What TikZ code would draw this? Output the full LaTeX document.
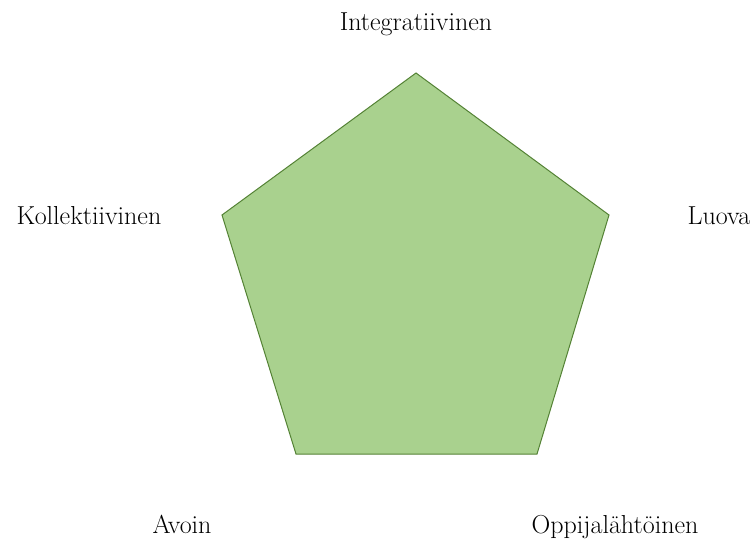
\documentclass[tikz,border=0pt]{standalone}
\definecolor{pentafill}{RGB}{169,209,142}
\definecolor{pentaline}{RGB}{84,130,53}
\begin{document}
\begin{tikzpicture}[x=1pt, y=-1pt]
		 \tikzstyle{pentagon} = [draw=pentaline, fill=pentafill, line width=1pt, line join=miter];
		 \tikzstyle{cornertext} = [font=\fontsize{26}{30}\selectfont, anchor=base, inner sep=0pt];

		 \useasboundingbox (0,0) rectangle (756,541);

		 \coordinate (v_top)   at (416,73);
		 \coordinate (v_right) at (609,215);
		 \coordinate (v_br)    at (537,454);
		 \coordinate (v_bl)    at (296,454);
		 \coordinate (v_left)  at (222,215);

		 \draw [pentagon] (v_top) -- (v_right) -- (v_br) -- (v_bl) -- (v_left) -- cycle;

		 \node [cornertext] (integ) at (416,30)  {Integratiivinen};
		 \node [cornertext] (luova) at (719,224) {Luova};
		 \node [cornertext] (oppij) at (615,533) {Oppijal\"aht\"oinen};
		 \node [cornertext] (avoin) at (182,533) {Avoin};
		 \node [cornertext] (kolle) at (89,224)  {Kollektiivinen};
	\end{tikzpicture}
\end{document}
